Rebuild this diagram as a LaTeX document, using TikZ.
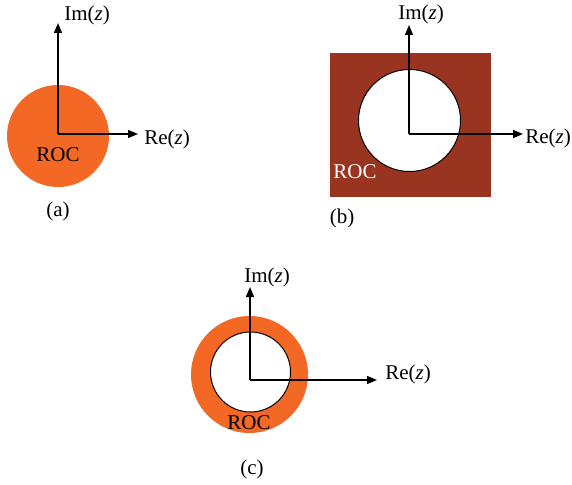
\documentclass[tikz,border=0pt]{standalone}
\usepackage{fontspec}
\setmainfont{Liberation Serif}
\usetikzlibrary{arrows.meta}
\definecolor{rocorange}{RGB}{242,104,36}
\definecolor{rocred}{RGB}{153,52,32}
\tikzset{
  axis/.style={line width=1.3pt, -{Triangle[length=10pt,width=8pt]}},
  lbl/.style={inner sep=0pt, font=\fontsize{21}{25}\selectfont},
  hole/.style={fill=white, draw=black, line width=1pt},
}
\begin{document}
\begin{tikzpicture}[x=1pt,y=-1pt]
\useasboundingbox (0,0) rectangle (572,484);
% (a)
\fill[rocorange] (58,136) circle (51);
\coordinate (oa) at (58,134);
\coordinate (ua) at (58,23);
\coordinate (ra) at (138,134);
\draw[axis] (oa) -- (ua);
\draw[axis] (oa) -- (ra);
\node[lbl] (ima) at (87,15) {Im(\textit{z})};
\node[lbl] (rea) at (167,139) {Re(\textit{z})};
\node[lbl] (roca) at (58,155) {ROC};
\node[lbl] (capa) at (58,211) {(a)};
% (b)
\fill[rocred] (330,53) rectangle (491,197);
\draw[hole] (409.5,120.5) circle (51);
\coordinate (ob) at (409,134);
\coordinate (ub) at (409,25);
\coordinate (rb) at (523,134);
\draw[axis] (ob) -- (ub);
\draw[axis] (ob) -- (rb);
\node[lbl] (imb) at (421,14) {Im(\textit{z})};
\node[lbl] (reb) at (548,138) {Re(\textit{z})};
\node[lbl, text=white] (rocb) at (355,172) {ROC};
\node[lbl] (capb) at (342,218) {(b)};
% (c)
\fill[rocorange] (249.5,374.5) circle (58.5);
\draw[hole] (250.5,372) circle (40);
\coordinate (oc) at (250,380);
\coordinate (uc) at (250,287);
\coordinate (rc) at (377,380);
\draw[axis] (oc) -- (uc);
\draw[axis] (oc) -- (rc);
\node[lbl] (imc) at (267,277) {Im(\textit{z})};
\node[lbl] (rec) at (408,374) {Re(\textit{z})};
\node[lbl] (rocc) at (249,423) {ROC};
\node[lbl] (capc) at (252,469) {(c)};
\end{tikzpicture}
\end{document}
